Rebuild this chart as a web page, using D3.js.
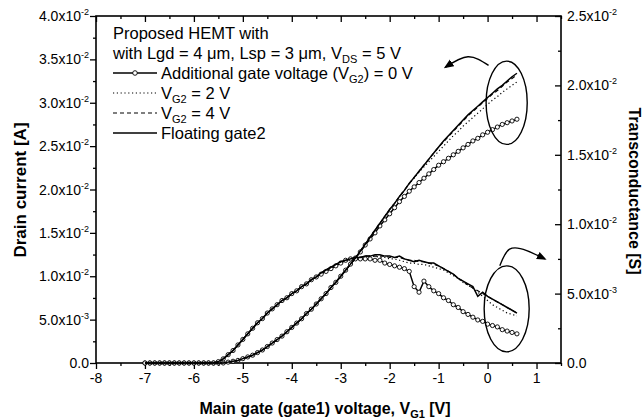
<!DOCTYPE html>
<html>
<head>
<meta charset="utf-8">
<script src="https://cdn.jsdelivr.net/npm/d3@7"></script>
<style>
body { margin: 0; background: #fff; }
svg { font-family: "Liberation Sans", Arial, sans-serif; }
</style>
</head>
<body>
<svg id="chart" width="644" height="420"></svg>
<script>
// gate1 sweep, V
var vg = [
  -7.0,-6.9,-6.8,-6.7,-6.6,-6.5,-6.4,-6.3,-6.2,-6.1,
  -6.0,-5.9,-5.8,-5.7,-5.6,-5.5,-5.4,-5.3,-5.2,-5.1,
  -5.0,-4.9,-4.8,-4.7,-4.6,-4.5,-4.4,-4.3,-4.2,-4.1,
  -4.0,-3.9,-3.8,-3.7,-3.6,-3.5,-3.4,-3.3,-3.2,-3.1,
  -3.0,-2.9,-2.8,-2.7,-2.6,-2.5,-2.4,-2.3,-2.2,-2.1,
  -2.0,-1.9,-1.8,-1.7,-1.6,-1.5,-1.4,-1.3,-1.2,-1.1,
  -1.0,-0.9,-0.8,-0.7,-0.6,-0.5,-0.4,-0.3,-0.2,-0.1,
  0.0,0.1,0.2,0.3,0.4,0.5,0.6
];

// drain current [A]
var idVg0 = [
  0,0,0,0,0,0,0,0,0,0,
  0,0,0,0,0,0,0,0.0001,0.0002,0.0003,
  0.0005,0.0007,0.0009,0.0012,0.0015,0.0019,0.0023,0.0027,0.0031,0.0036,
  0.0041,0.0046,0.0051,0.0057,0.0062,0.0068,0.0074,0.0080,0.0087,0.0093,
  0.0100,0.0107,0.0114,0.0121,0.0128,0.0136,0.0143,0.0150,0.0158,0.0165,
  0.0172,0.0179,0.0186,0.0192,0.0198,0.0203,0.0208,0.0213,0.0218,0.0223,
  0.0228,0.0232,0.0236,0.0240,0.0244,0.0248,0.0252,0.0256,0.0259,0.0263,
  0.0266,0.0269,0.0272,0.0275,0.0277,0.0279,0.0281
];
var idVg2 = [
  0,0,0,0,0,0,0,0,0,0,
  0,0,0,0,0,0,0,0.0001,0.0002,0.0003,
  0.0005,0.0007,0.0009,0.0012,0.0015,0.0019,0.0023,0.0027,0.0031,0.0036,
  0.0041,0.0046,0.0051,0.0057,0.0062,0.0068,0.0074,0.0080,0.0087,0.0093,
  0.0100,0.0107,0.0114,0.0121,0.0129,0.0137,0.0145,0.0153,0.0161,0.0169,
  0.0177,0.0184,0.0192,0.0199,0.0207,0.0213,0.0220,0.0226,0.0232,0.0238,
  0.0244,0.0250,0.0256,0.0262,0.0267,0.0273,0.0278,0.0283,0.0288,0.0293,
  0.0298,0.0303,0.0307,0.0312,0.0316,0.0320,0.0324
];
var idVg4 = [
  0,0,0,0,0,0,0,0,0,0,
  0,0,0,0,0,0,0,0.0001,0.0002,0.0003,
  0.0005,0.0007,0.0009,0.0012,0.0015,0.0019,0.0023,0.0027,0.0031,0.0036,
  0.0041,0.0046,0.0051,0.0057,0.0062,0.0068,0.0074,0.0080,0.0087,0.0093,
  0.0100,0.0107,0.0114,0.0121,0.0129,0.0137,0.0145,0.0153,0.0161,0.0169,
  0.0177,0.0184,0.0192,0.0199,0.0207,0.0214,0.0221,0.0228,0.0235,0.0242,
  0.0249,0.0255,0.0261,0.0267,0.0273,0.0279,0.0285,0.0290,0.0295,0.0300,
  0.0305,0.0310,0.0314,0.0319,0.0324,0.0328,0.0332
];
var idFloat = [
  0,0,0,0,0,0,0,0,0,0,
  0,0,0,0,0,0,0,0.0001,0.0002,0.0003,
  0.0005,0.0007,0.0009,0.0012,0.0015,0.0019,0.0023,0.0027,0.0031,0.0036,
  0.0041,0.0046,0.0051,0.0057,0.0062,0.0068,0.0074,0.0080,0.0087,0.0093,
  0.0100,0.0107,0.0114,0.0121,0.0129,0.0137,0.0145,0.0153,0.0161,0.0169,
  0.0177,0.0184,0.0192,0.0199,0.0207,0.0214,0.0221,0.0228,0.0235,0.0242,
  0.0249,0.0256,0.0262,0.0268,0.0274,0.0280,0.0286,0.0291,0.0296,0.0301,
  0.0306,0.0311,0.0316,0.0320,0.0325,0.0330,0.0334
];

// transconductance [S]
var gmVg0 = [
  0,0,0,0,0,0,0,0,0,0,
  0,0,0,0,0,0.0001,0.0003,0.0006,0.0009,0.0013,
  0.0017,0.0021,0.0025,0.0029,0.0032,0.0036,0.0039,0.0042,0.0045,0.0047,
  0.0050,0.0052,0.0055,0.0057,0.0060,0.0062,0.0064,0.0066,0.0068,0.0070,
  0.0072,0.0074,0.0075,0.0075,0.0075,0.0075,0.0075,0.0074,0.0074,0.0072,
  0.0071,0.0070,0.0069,0.0068,0.0066,0.0055,0.0051,0.0059,0.0055,0.0052,
  0.0050,0.0047,0.0045,0.0042,0.0040,0.0037,0.0035,0.0033,0.0031,0.0030,
  0.0028,0.0027,0.0026,0.0024,0.0023,0.0022,0.0021
];
var gmVg2 = [
  0,0,0,0,0,0,0,0,0,0,
  0,0,0,0,0,0.0001,0.0003,0.0006,0.0009,0.0013,
  0.0017,0.0021,0.0025,0.0029,0.0032,0.0036,0.0039,0.0042,0.0045,0.0047,
  0.0050,0.0052,0.0055,0.0057,0.0060,0.0062,0.0065,0.0067,0.0069,0.0071,
  0.0073,0.0074,0.0075,0.0076,0.0076,0.0077,0.0077,0.0077,0.0076,0.0076,
  0.0075,0.0075,0.0074,0.0073,0.0072,0.0072,0.0071,0.0071,0.0070,0.0069,
  0.0068,0.0067,0.0065,0.0063,0.0061,0.0058,0.0056,0.0054,0.0051,0.0048,
  0.0045,0.0042,0.0040,0.0038,0.0036,0.0035,0.0034
];
var gmVg4 = [
  0,0,0,0,0,0,0,0,0,0,
  0,0,0,0,0,0.0001,0.0003,0.0006,0.0009,0.0013,
  0.0017,0.0021,0.0025,0.0029,0.0032,0.0036,0.0039,0.0042,0.0045,0.0047,
  0.0050,0.0052,0.0055,0.0057,0.0060,0.0062,0.0065,0.0067,0.0069,0.0071,
  0.0073,0.0074,0.0075,0.0076,0.0076,0.0077,0.0077,0.0077,0.0077,0.0077,
  0.0076,0.0076,0.0076,0.0075,0.0074,0.0074,0.0073,0.0073,0.0072,0.0071,
  0.0070,0.0068,0.0066,0.0064,0.0061,0.0059,0.0056,0.0054,0.0052,0.0050,
  0.0048,0.0046,0.0044,0.0042,0.0040,0.0038,0.0036
];
var gmFloat = [
  0,0,0,0,0,0,0,0,0,0,
  0,0,0,0,0,0.0001,0.0003,0.0006,0.0009,0.0013,
  0.0017,0.0021,0.0025,0.0029,0.0032,0.0036,0.0039,0.0042,0.0045,0.0047,
  0.0050,0.0052,0.0055,0.0057,0.0060,0.0062,0.0065,0.0067,0.0069,0.0071,
  0.0073,0.0074,0.0075,0.0076,0.0076,0.0077,0.0077,0.0078,0.0078,0.0077,
  0.0077,0.0076,0.0077,0.0075,0.0074,0.0073,0.0074,0.0073,0.0072,0.0072,
  0.0070,0.0068,0.0066,0.0064,0.0061,0.0059,0.0057,0.0055,0.0048,0.0051,
  0.0048,0.0046,0.0044,0.0042,0.0040,0.0038,0.0036
];

var xTicks = [-8, -7, -6, -5, -4, -3, -2, -1, 0, 1];
var xMinor = [-7.5, -6.5, -5.5, -4.5, -3.5, -2.5, -1.5, -0.5, 0.5, 1.5];
var leftTicks = [0, 0.005, 0.01, 0.015, 0.02, 0.025, 0.03, 0.035, 0.04];
var leftLabels = ["0.0", "5.0x10^-3", "1.0x10^-2", "1.5x10^-2", "2.0x10^-2",
                  "2.5x10^-2", "3.0x10^-2", "3.5x10^-2", "4.0x10^-2"];
var rightTicks = [0, 0.005, 0.01, 0.015, 0.02, 0.025];
var rightLabels = ["0.0", "5.0x10^-3", "1.0x10^-2", "1.5x10^-2", "2.0x10^-2", "2.5x10^-2"];

var svg = d3.select("#chart");
var plotL = 96, plotR = 561, plotT = 16, plotB = 363;

var x = d3.scaleLinear().domain([-8, 1.5]).range([plotL, plotR]);
var yL = d3.scaleLinear().domain([0, 0.04]).range([plotB, plotT]);
var yR = d3.scaleLinear().domain([0, 0.025]).range([plotB, plotT]);

    // tick marks on the four sides
function ticks(axis, tr) {
    var g = svg.append("g").attr("transform", tr).call(axis);
    g.select(".domain").remove();
    g.selectAll("text").remove();
    g.selectAll("line").attr("stroke", "#000").attr("stroke-width", 1.3);
    return g;
}
function halfSteps(arr) {
    return arr.slice(0, -1).map(function (d, i) { return (d + arr[i + 1]) / 2; });
}
ticks(d3.axisBottom(x).tickValues(xTicks).tickSize(6), "translate(0," + plotB + ")");
ticks(d3.axisBottom(x).tickValues(xMinor).tickSize(3), "translate(0," + plotB + ")");
ticks(d3.axisBottom(x).tickValues(xTicks).tickSize(6), "translate(0," + plotT + ")");
ticks(d3.axisBottom(x).tickValues(xMinor).tickSize(3), "translate(0," + plotT + ")");
ticks(d3.axisLeft(yL).tickValues(leftTicks).tickSize(6), "translate(" + plotL + ",0)");
ticks(d3.axisLeft(yL).tickValues(halfSteps(leftTicks)).tickSize(3), "translate(" + plotL + ",0)");
ticks(d3.axisLeft(yR).tickValues(rightTicks).tickSize(6), "translate(" + plotR + ",0)");
ticks(d3.axisLeft(yR).tickValues(halfSteps(rightTicks)).tickSize(3), "translate(" + plotR + ",0)");

svg.append("rect")
    .attr("x", plotL).attr("y", plotT)
    .attr("width", plotR - plotL).attr("height", plotB - plotT)
    .attr("fill", "none").attr("stroke", "#000").attr("stroke-width", 1.6);

    // "5.0x10^-3" style labels
function sciText(sel, str) {
    var parts = str.split("^");
    sel.append("tspan").text(parts[0]);
    if (parts.length > 1)
        sel.append("tspan").attr("dy", -6).attr("font-size", 9).text(parts[1]);
}

svg.append("g").selectAll("text").data(xTicks).join("text")
    .attr("x", function (d) { return x(d); })
    .attr("y", 383)
    .attr("text-anchor", "middle")
    .attr("font-size", 14)
    .text(function (d) { return d; });

leftTicks.forEach(function (d, i) {
    var t = svg.append("text")
        .attr("x", 89).attr("y", yL(d) + 5)
        .attr("text-anchor", "end").attr("font-size", 14);
    sciText(t, leftLabels[i]);
});
rightTicks.forEach(function (d, i) {
    var t = svg.append("text")
        .attr("x", 567).attr("y", yR(d) + 5)
        .attr("font-size", 14);
    sciText(t, rightLabels[i]);
});

    // axis titles
var xt = svg.append("text")
    .attr("x", 325).attr("y", 414)
    .attr("text-anchor", "middle").attr("font-size", 16).attr("font-weight", "bold");
xt.append("tspan").text("Main gate (gate1) voltage, V");
xt.append("tspan").attr("dy", 4).attr("font-size", 11).text("G1");
xt.append("tspan").attr("dy", -4).text(" [V]");

svg.append("text")
    .attr("transform", "translate(26,190) rotate(-90)")
    .attr("text-anchor", "middle").attr("font-size", 17).attr("font-weight", "bold")
    .text("Drain current [A]");
svg.append("text")
    .attr("transform", "translate(629,191) rotate(90)")
    .attr("text-anchor", "middle").attr("font-size", 16).attr("font-weight", "bold")
    .text("Transconductance [S]");

    // curves
var series = [
    { id: idVg0, gm: gmVg0, dash: null, dots: true },
    { id: idVg2, gm: gmVg2, dash: "1.2,2.6", dots: false },
    { id: idVg4, gm: gmVg4, dash: "4,3", dots: false },
    { id: idFloat, gm: gmFloat, dash: null, dots: false }
];

var plot = svg.append("g");
series.forEach(function (s) {
    [[s.id, yL], [s.gm, yR]].forEach(function (pair) {
        var vals = pair[0], ys = pair[1];
        var line = d3.line()
            .x(function (d, i) { return x(vg[i]); })
            .y(function (d) { return ys(d); });
        plot.append("path")
            .attr("d", line(vals))
            .attr("fill", "none").attr("stroke", "#000")
            .attr("stroke-width", s.dash ? 1.2 : 1.5)
            .attr("stroke-dasharray", s.dash);
        if (s.dots) {
            plot.append("g").selectAll("circle").data(vals).join("circle")
                .attr("cx", function (d, i) { return x(vg[i]); })
                .attr("cy", function (d) { return ys(d); })
                .attr("r", 2.1)
                .attr("fill", "#fff").attr("stroke", "#000").attr("stroke-width", 0.9);
        }
    });
});

    // ellipses and arrows, in data units
svg.append("defs").append("marker")
    .attr("id", "head").attr("viewBox", "0 0 10 10")
    .attr("refX", 8).attr("refY", 5)
    .attr("markerWidth", 7).attr("markerHeight", 7)
    .attr("orient", "auto")
    .append("path").attr("d", "M0,1 L10,5 L0,9 Z").attr("fill", "#000");

function ellipse(cx, cy, rx, ry, ys) {
    svg.append("ellipse")
        .attr("cx", x(cx)).attr("cy", ys(cy))
        .attr("rx", x(cx + rx) - x(cx)).attr("ry", ys(cy) - ys(cy + ry))
        .attr("fill", "none").attr("stroke", "#000").attr("stroke-width", 1.4);
}
ellipse(0.39, 0.0300, 0.42, 0.0048, yL);
ellipse(0.39, 0.0039, 0.46, 0.0031, yR);

var arc = d3.line().curve(d3.curveNatural)
    .x(function (d) { return x(d[0]); });
var upperArc = [[0.02, 0.0343], [-0.4, 0.0353], [-0.86, 0.0341]];
var lowerArc = [[0.25, 0.0070], [0.45, 0.0082], [0.8, 0.0081], [1.17, 0.0075]];
svg.append("path")
    .attr("d", arc.y(function (d) { return yL(d[1]); })(upperArc))
    .attr("fill", "none").attr("stroke", "#000").attr("stroke-width", 1.4)
    .attr("marker-end", "url(#head)");
svg.append("path")
    .attr("d", arc.y(function (d) { return yR(d[1]); })(lowerArc))
    .attr("fill", "none").attr("stroke", "#000").attr("stroke-width", 1.4)
    .attr("marker-end", "url(#head)");

    // legend
var lg = svg.append("g").attr("font-size", 16.5);
var lx = 113, ly = 39, step = 20;
lg.append("text").attr("x", lx).attr("y", ly).text("Proposed HEMT with");
var t2 = lg.append("text").attr("x", lx).attr("y", ly + step);
t2.append("tspan").text("with Lgd = 4 \u03bcm, Lsp = 3 \u03bcm, V");
t2.append("tspan").attr("dy", 4).attr("font-size", 11).text("DS");
t2.append("tspan").attr("dy", -4).text(" = 5 V");

var legendRows = [
    { pre: "Additional gate voltage (V", sub: "G2", post: ") = 0 V" },
    { pre: "V", sub: "G2", post: " = 2 V" },
    { pre: "V", sub: "G2", post: " = 4 V" },
    { pre: "Floating gate2", sub: "", post: "" }
];
legendRows.forEach(function (r, i) {
    var s = series[i];
    var yy = ly + step * (i + 2);
    lg.append("line")
        .attr("x1", lx).attr("x2", 157).attr("y1", yy - 6).attr("y2", yy - 6)
        .attr("stroke", "#000").attr("stroke-width", s.dash ? 1.2 : 1.5)
        .attr("stroke-dasharray", s.dash);
    if (s.dots)
        lg.append("circle").attr("cx", 135).attr("cy", yy - 6).attr("r", 2.3)
            .attr("fill", "#fff").attr("stroke", "#000").attr("stroke-width", 0.9);
    var t = lg.append("text").attr("x", 161).attr("y", yy);
    t.append("tspan").text(r.pre);
    if (r.sub) {
        t.append("tspan").attr("dy", 4).attr("font-size", 11).text(r.sub);
        t.append("tspan").attr("dy", -4).text(r.post);
    }
});
</script>
</body>
</html>
